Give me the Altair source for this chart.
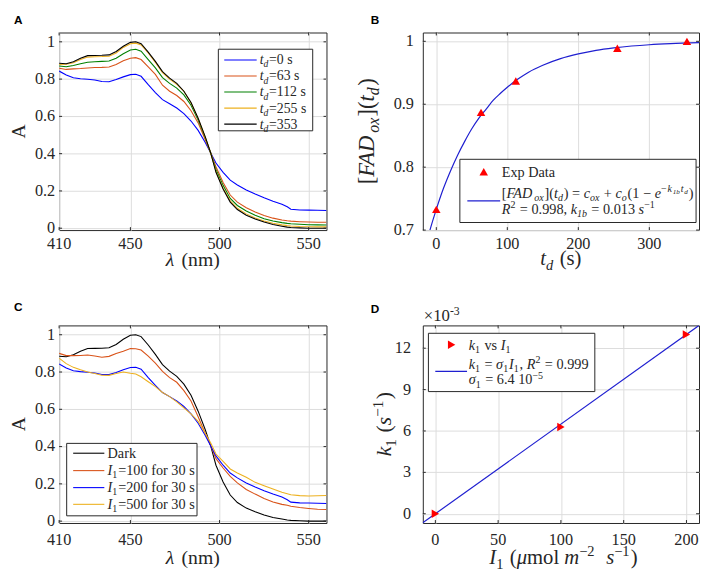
import altair as alt
import pandas as pd

SERIF = "Liberation Serif"
SANS = "Liberation Sans"
INK = "#262626"
GRID = "#dcdcdc"
C_BLUE = "#0000ff"
C_ORANGE = "#d95319"
C_GREEN = "#008000"
C_YELLOW = "#edb120"
C_BLACK = "#000000"
C_RED = "#ff0000"
C_FIT = "#1f1fd0"

# ---------------- data ----------------
LAMBDA = [410, 414, 418, 422, 426, 430, 434, 438, 442, 446, 450, 453, 456, 460, 464, 468, 472, 476, 480, 484,
          488, 492, 495, 498, 502, 506, 510, 515, 520, 525, 530, 535, 538, 540, 545, 550, 555, 560]

A_TD0 = [0.843, 0.822, 0.807, 0.802, 0.799, 0.795, 0.787, 0.786, 0.798, 0.812, 0.824, 0.826, 0.815, 0.770, 0.728, 0.690,
         0.668, 0.645, 0.615, 0.575, 0.525, 0.460, 0.405, 0.350, 0.300, 0.258, 0.232, 0.205, 0.183, 0.163, 0.145, 0.129,
         0.115, 0.102, 0.098, 0.097, 0.096, 0.095]
A_TD63 = [0.858, 0.852, 0.855, 0.857, 0.860, 0.862, 0.863, 0.865, 0.878, 0.898, 0.912, 0.915, 0.905, 0.865, 0.825, 0.767,
          0.735, 0.712, 0.680, 0.630, 0.565, 0.475, 0.405, 0.330, 0.245, 0.178, 0.140, 0.110, 0.087, 0.068, 0.054, 0.044,
          0.040, 0.038, 0.035, 0.033, 0.032, 0.032]
A_TD112 = [0.870, 0.866, 0.873, 0.882, 0.890, 0.893, 0.895, 0.897, 0.912, 0.936, 0.956, 0.960, 0.950, 0.905, 0.860, 0.808,
           0.777, 0.752, 0.715, 0.660, 0.580, 0.485, 0.405, 0.315, 0.230, 0.160, 0.122, 0.092, 0.070, 0.051, 0.039, 0.030,
           0.026, 0.024, 0.021, 0.019, 0.018, 0.017]
A_TD255 = [0.878, 0.880, 0.888, 0.905, 0.918, 0.920, 0.921, 0.923, 0.940, 0.970, 0.990, 0.993, 0.983, 0.940, 0.890, 0.835,
           0.800, 0.772, 0.735, 0.672, 0.588, 0.488, 0.405, 0.305, 0.215, 0.147, 0.107, 0.077, 0.055, 0.039, 0.027, 0.018,
           0.014, 0.012, 0.009, 0.008, 0.007, 0.007]
A_TD353 = [0.885, 0.882, 0.893, 0.912, 0.926, 0.927, 0.928, 0.930, 0.948, 0.976, 0.997, 1.000, 0.990, 0.945, 0.895, 0.840,
           0.805, 0.777, 0.735, 0.675, 0.590, 0.490, 0.405, 0.300, 0.210, 0.140, 0.100, 0.070, 0.050, 0.033, 0.020, 0.011,
           0.006, 0.004, 0.002, 0.000, 0.000, 0.000]

C_DARK = A_TD353
C_I100 = [0.900, 0.888, 0.888, 0.889, 0.891, 0.886, 0.879, 0.884, 0.900, 0.912, 0.926, 0.925, 0.918, 0.885, 0.848, 0.803,
          0.770, 0.745, 0.700, 0.645, 0.560, 0.470, 0.405, 0.335, 0.285, 0.240, 0.205, 0.170, 0.145, 0.122, 0.103, 0.090,
          0.085, 0.080, 0.073, 0.068, 0.064, 0.062]
C_I200 = A_TD0
C_I500 = [0.874, 0.845, 0.825, 0.812, 0.800, 0.792, 0.783, 0.782, 0.792, 0.800, 0.793, 0.789, 0.775, 0.748, 0.722, 0.690,
          0.668, 0.640, 0.608, 0.575, 0.535, 0.470, 0.420, 0.360, 0.320, 0.280, 0.258, 0.235, 0.208, 0.190, 0.172, 0.155,
          0.147, 0.142, 0.137, 0.135, 0.136, 0.138]

TD_EXP = [0, 63, 112, 255, 353]
FAD_EXP = [0.733, 0.887, 0.937, 0.989, 1.000]
TD_FIT = [-12, -5, 0, 10, 20, 30, 40, 50, 60, 70, 80, 90, 100, 115, 130, 150, 175, 200, 225, 250, 275, 300, 330, 370]
FAD_FIT = [0.688, 0.715, 0.733, 0.766, 0.794, 0.819, 0.841, 0.861, 0.878, 0.892, 0.906, 0.917, 0.927, 0.940, 0.951,
           0.962, 0.9725, 0.980, 0.9857, 0.9896, 0.9925, 0.9946, 0.9963, 0.9978]

I1_EXP = [0, 100, 200]
K1_EXP = [0.0, 6.28, 13.0]          # x 10^-3
I1_FIT = [-10, 210]
K1_FIT = [-0.65, 13.65]

LAM_TICKS = [410, 450, 500, 550]
A_TICKS = [0, 0.2, 0.4, 0.6, 0.8, 1]
TD_TICKS = [0, 100, 200, 300]
FAD_TICKS = [0.7, 0.8, 0.9, 1]
I1_TICKS = [0, 50, 100, 150, 200]
K1_TICKS = [0, 3, 6, 9, 12]

# ---------------- text helpers ----------------
W_R = {' ': 250, '(': 333, ')': 333, '[': 333, ']': 333, '=': 564, '+': 564, '−': 564, '-': 333, ',': 250, '.': 250,
       'a': 444, 'b': 500, 'c': 444, 'd': 500, 'e': 444, 'f': 333, 'k': 500, 'l': 278, 'm': 778, 'n': 500, 'o': 500,
       'r': 333, 's': 389, 't': 278, 'v': 500, 'x': 500, 'D': 722, 'E': 611, 'p': 500, '×': 564, 'λ': 550, 'σ': 550,
       'μ': 500, 'R': 667, 'I': 333, 'F': 556, 'A': 722}
for _d in "0123456789":
    W_R[_d] = 500
W_I = dict(W_R)
W_I.update({'A': 611, 'D': 722, 'F': 611, 'I': 333, 'R': 611, 'c': 444, 'd': 500, 'e': 444, 'k': 444, 'm': 722,
            'o': 500, 's': 389, 't': 278, 'x': 444, 'b': 500, 'μ': 500, 'σ': 500})
STY = {"r": (False, 1.0, 0.0), "i": (True, 1.0, 0.0),
       "sub": (False, 0.7, 0.22), "isub": (True, 0.7, 0.22),
       "sup": (False, 0.7, -0.38), "isup": (True, 0.7, -0.38),
       "supsub": (False, 0.5, -0.26), "isupsub": (True, 0.5, -0.26)}
ONE = [{"k": 0}]


def tw(s, italic):
    tbl = W_I if italic else W_R
    return sum(tbl.get(c, 500) for c in s) / 1000.0


def seg_adv(t, s, size):
    it, sc, _ = STY[s]
    extra = 0.06 * size if sc < 1 else 0.0
    return tw(t, it) * size * sc + extra


def txt(text, x, y, size, italic=False, angle=0, color=INK, font=SERIF, weight="normal",
        align="left", baseline="alphabetic"):
    return alt.Chart(alt.Data(values=ONE)).mark_text(
        text=text, font=font, fontSize=size, fontStyle="italic" if italic else "normal",
        fontWeight=weight, align=align, baseline=baseline, angle=angle, color=color
    ).encode(x=alt.value(x), y=alt.value(y))


def rich(segs, x, y, size, angle=0, center=False, color=INK):
    total = sum(seg_adv(t, s, size) for t, s in segs)
    pos = -total / 2 if center else 0.0
    out = []
    for t, s in segs:
        it, sc, sh = STY[s]
        fs = size * sc
        lead = len(t) - len(t.lstrip(" "))
        trail = len(t) - len(t.rstrip(" "))
        core = t.strip(" ")
        pos += lead * 0.25 * fs
        if core:
            if angle == 0:
                px, py = x + pos, y + sh * size
            else:
                px, py = x + sh * size, y - pos
            out.append(txt(core, px, py, fs, italic=it, angle=angle, color=color))
        pos += seg_adv(core, s, size) + trail * 0.25 * fs
    return out


def box(x1, x2, y1, y2):
    return alt.Chart(alt.Data(values=ONE)).mark_rect(fill="white", stroke=INK, strokeWidth=1).encode(
        x=alt.value(x1), x2=alt.value(x2), y=alt.value(y1), y2=alt.value(y2))


def hline(x1, x2, y, color, w=1.1):
    return alt.Chart(alt.Data(values=ONE)).mark_rule(color=color, strokeWidth=w).encode(
        x=alt.value(x1), x2=alt.value(x2), y=alt.value(y))


def marker(x, y, shape):
    return alt.Chart(alt.Data(values=ONE)).mark_point(shape=shape, filled=True, color=C_RED, size=75, opacity=1).encode(
        x=alt.value(x), y=alt.value(y))


def panel_label(t, x, y):
    return txt(t, x, y, 12, font=SANS, weight="bold", color="#000000", baseline="top")


LABEL = 16.5
TITLE = 20
LEG = 14.5


def grid_axis(vals):
    return alt.Axis(values=vals, labels=False, title=None, grid=True, gridColor=GRID, gridWidth=1,
                    domain=False, ticks=False, tickSize=0)


def frame(xticks, yticks, xs, ys, axx, axy, w, h, xpad, ypad, L=3):
    """Tick labels (drawn through the scales) plus MATLAB-style inward ticks."""
    dx = pd.DataFrame({"v": xticks})
    dy = pd.DataFrame({"v": yticks})
    X = alt.X("v:Q", scale=xs, axis=axx)
    Y = alt.Y("v:Q", scale=ys, axis=axy)
    out = [
        alt.Chart(dx).mark_text(font=SERIF, fontSize=LABEL, color=INK, align="center", baseline="top").encode(
            x=X, y=alt.value(h + xpad), text=alt.Text("v:Q", format="~g")),
        alt.Chart(dy).mark_text(font=SERIF, fontSize=LABEL, color=INK, align="right", baseline="middle").encode(
            y=Y, x=alt.value(-ypad), text=alt.Text("v:Q", format="~g")),
    ]
    for ya, yb in ((h, h - L), (0, L)):
        out.append(alt.Chart(dx).mark_rule(color=INK, strokeWidth=1).encode(x=X, y=alt.value(ya), y2=alt.value(yb)))
    for xa, xb in ((0, L), (w, w - L)):
        out.append(alt.Chart(dy).mark_rule(color=INK, strokeWidth=1).encode(y=Y, x=alt.value(xa), x2=alt.value(xb)))
    return out


# ---------------- panel A / C ----------------
XS_LAM = alt.Scale(domain=[410, 560], nice=False, zero=False)
YS_A = alt.Scale(domain=[-0.01, 1.05], nice=False, zero=False)
AX_LAM = grid_axis(LAM_TICKS)
AX_A = grid_axis(A_TICKS)


def spectra(series, w, h, xpad, xtitle_y):
    layers = []
    for vals, color in series:
        df = pd.DataFrame({"lam": LAMBDA, "A": vals})
        layers.append(alt.Chart(df).mark_line(color=color, strokeWidth=1.1, clip=True).encode(
            x=alt.X("lam:Q", scale=XS_LAM, axis=AX_LAM),
            y=alt.Y("A:Q", scale=YS_A, axis=AX_A)))
    layers += frame(LAM_TICKS, A_TICKS, XS_LAM, YS_A, AX_LAM, AX_A, w, h, xpad, 4)
    layers += rich([("λ", "i"), (" (nm)", "r")], w / 2, h + xtitle_y, TITLE, center=True)
    layers.append(txt("A", -35, h / 2, TITLE, angle=270, align="center"))
    return layers


W1, W2 = 272, 281
H1, H2 = 201, 201

# Panel A
a_layers = spectra([(A_TD0, C_BLUE), (A_TD63, C_ORANGE), (A_TD112, C_GREEN), (A_TD255, C_YELLOW),
                    (A_TD353, C_BLACK)], W1, H1, 6, 37)
a_layers.append(box(162, 258, 17, 100))
a_rows = [28, 44.3, 60.6, 76.9, 93.2]
a_names = ["=0 s", "=63 s", "=112 s", "=255 s", "=353"]
a_cols = [C_BLUE, C_ORANGE, C_GREEN, C_YELLOW, C_BLACK]
for ry, nm, col in zip(a_rows, a_names, a_cols):
    a_layers.append(hline(168, 201, ry, col))
    a_layers += rich([("t", "i"), ("d", "isub"), (nm, "r")], 204, ry + 4.5, 14)
a_layers.append(panel_label("A", -46, -18))
pA = alt.layer(*a_layers).properties(width=W1, height=H1)

# Panel C
c_layers = spectra([(C_DARK, C_BLACK), (C_I100, C_ORANGE), (C_I200, C_BLUE), (C_I500, C_YELLOW)], W1, H2, 9, 42)
c_layers.append(box(7.7, 140.3, 120, 193.7))
c_rows = [130, 147.7, 165, 182]
c_cols = [C_BLACK, C_ORANGE, C_BLUE, C_YELLOW]
for i, (ry, col) in enumerate(zip(c_rows, c_cols)):
    c_layers.append(hline(14.3, 46, ry, col))
    if i == 0:
        segs = [("Dark", "r")]
    else:
        segs = [("I", "i"), ("1", "sub"), (["=100 for 30 s", "=200 for 30 s", "=500 for 30 s"][i - 1], "r")]
    c_layers += rich(segs, 49.3, ry + 4.8, LEG)
c_layers.append(panel_label("C", -46, -24))
pC = alt.layer(*c_layers).properties(width=W1, height=H2)

# ---------------- panel B ----------------
XS_TD = alt.Scale(domain=[-19, 370], nice=False, zero=False)
YS_FAD = alt.Scale(domain=[0.7, 1.014], nice=False, zero=False)
AX_TD = grid_axis(TD_TICKS)
AX_FAD = grid_axis(FAD_TICKS)
df_fit = pd.DataFrame({"t": TD_FIT, "v": FAD_FIT})
df_exp = pd.DataFrame({"t": TD_EXP, "v": FAD_EXP})
b_layers = [
    alt.Chart(df_fit).mark_line(color=C_FIT, strokeWidth=1.2, interpolate="monotone", clip=True).encode(
        x=alt.X("t:Q", scale=XS_TD, axis=AX_TD), y=alt.Y("v:Q", scale=YS_FAD, axis=AX_FAD)),
    alt.Chart(df_exp).mark_point(shape="triangle-up", filled=True, color=C_RED, size=75, opacity=1).encode(
        x=alt.X("t:Q", scale=XS_TD, axis=AX_TD), y=alt.Y("v:Q", scale=YS_FAD, axis=AX_FAD)),
]
b_layers += frame(TD_TICKS, FAD_TICKS, XS_TD, YS_FAD, AX_TD, AX_FAD, W2, H1, 6, 9)
b_layers.append(box(37.7, 278, 129, 193.3))
b_layers.append(marker(62, 141.7, "triangle-up"))
b_layers += rich([("Exp Data", "r")], 80.3, 146.5, LEG)
b_layers.append(hline(45.3, 78.7, 171.3, C_FIT, 1.2))
b_layers += rich([("[", "r"), ("FAD", "i"), ("ox", "isub"), ("](", "r"), ("t", "i"), ("d", "isub"), (") = ", "r"),
                  ("c", "i"), ("ox", "isub"), (" + ", "r"), ("c", "i"), ("o", "isub"), ("(1 − ", "r"), ("e", "i"),
                  ("−", "sup"), ("k", "isup"), ("1b", "isupsub"), ("t", "isup"), ("d", "isupsub"), (")", "r")],
                 80.3, 168.0, LEG)
b_layers += rich([("R", "i"), ("2", "sup"), (" = 0.998, ", "r"), ("k", "i"), ("1b", "isub"), (" = 0.013 ", "r"),
                  ("s", "i"), ("−1", "sup")], 80.3, 184.5, LEG)
b_layers += rich([("t", "i"), ("d", "isub"), (" (s)", "r")], W2 / 2, H1 + 36, TITLE + 1, center=True)
b_layers += rich([("[", "r"), ("FAD", "i"), ("ox", "isub"), ("](", "r"), ("t", "i"), ("d", "isub"), (")", "r")],
                 -50, H1 / 2, TITLE + 3, angle=270, center=True)
b_layers.append(panel_label("B", -53, -18))
pB = alt.layer(*b_layers).properties(width=W2, height=H1)

# ---------------- panel D ----------------
XS_I = alt.Scale(domain=[-10, 210], nice=False, zero=False)
YS_K = alt.Scale(domain=[-0.67, 13.65], nice=False, zero=False)
AX_I = grid_axis(I1_TICKS)
AX_K = grid_axis(K1_TICKS)
df_kfit = pd.DataFrame({"i": I1_FIT, "k": K1_FIT})
df_kexp = pd.DataFrame({"i": I1_EXP, "k": K1_EXP})
d_layers = [
    alt.Chart(df_kfit).mark_line(color=C_FIT, strokeWidth=1.2, clip=True).encode(
        x=alt.X("i:Q", scale=XS_I, axis=AX_I), y=alt.Y("k:Q", scale=YS_K, axis=AX_K)),
    alt.Chart(df_kexp).mark_point(shape="triangle-right", filled=True, color=C_RED, size=75, opacity=1).encode(
        x=alt.X("i:Q", scale=XS_I, axis=AX_I), y=alt.Y("k:Q", scale=YS_K, axis=AX_K)),
]
d_layers += frame(I1_TICKS, K1_TICKS, XS_I, YS_K, AX_I, AX_K, W2, H2, 9, 12)
d_layers.append(box(5.7, 175, 8, 67.3))
d_layers.append(marker(29.3, 19.7, "triangle-right"))
d_layers += rich([("k", "i"), ("1", "sub"), (" vs ", "r"), ("I", "i"), ("1", "sub")], 46.7, 24.5, LEG)
d_layers.append(hline(12.7, 45, 46.7, C_FIT, 1.2))
d_layers += rich([("k", "i"), ("1", "sub"), (" = ", "r"), ("σ", "i"), ("1", "sub"), ("I", "i"), ("1", "sub"),
                  (", ", "r"), ("R", "i"), ("2", "sup"), (" = 0.999", "r")], 46.7, 44.0, LEG)
d_layers += rich([("σ", "i"), ("1", "sub"), (" = 6.4 10", "r"), ("−5", "sup")], 46.7, 60.0, LEG)
d_layers += rich([("×10", "r"), ("-3", "sup")], 1, -4, 17)
d_layers += rich([("I", "i"), ("1", "sub"), (" (", "r"), ("μ", "i"), ("mol ", "r"), ("m", "i"), ("−2", "sup"),
                  (" ", "r"), ("s", "i"), ("−1", "sup"), (")", "r")], W2 / 2, H2 + 42, TITLE + 1, center=True)
d_layers += rich([("k", "i"), ("1", "sub"), (" (", "r"), ("s", "i"), ("−1", "sup"), (")", "r")],
                 -32, H2 / 2, TITLE + 2, angle=270, center=True)
d_layers.append(panel_label("D", -53, -22))
pD = alt.layer(*d_layers).properties(width=W2, height=H2)

chart = alt.ConcatChart(
    concat=[pA, pB, pC, pD], columns=2, spacing={"row": 97, "column": 98},
    bounds="flush", align="each", padding=0, background="white"
).configure_view(
    stroke=INK, strokeWidth=1
)

chart.save("out.html", embed_options={"renderer": "svg", "actions": False})
